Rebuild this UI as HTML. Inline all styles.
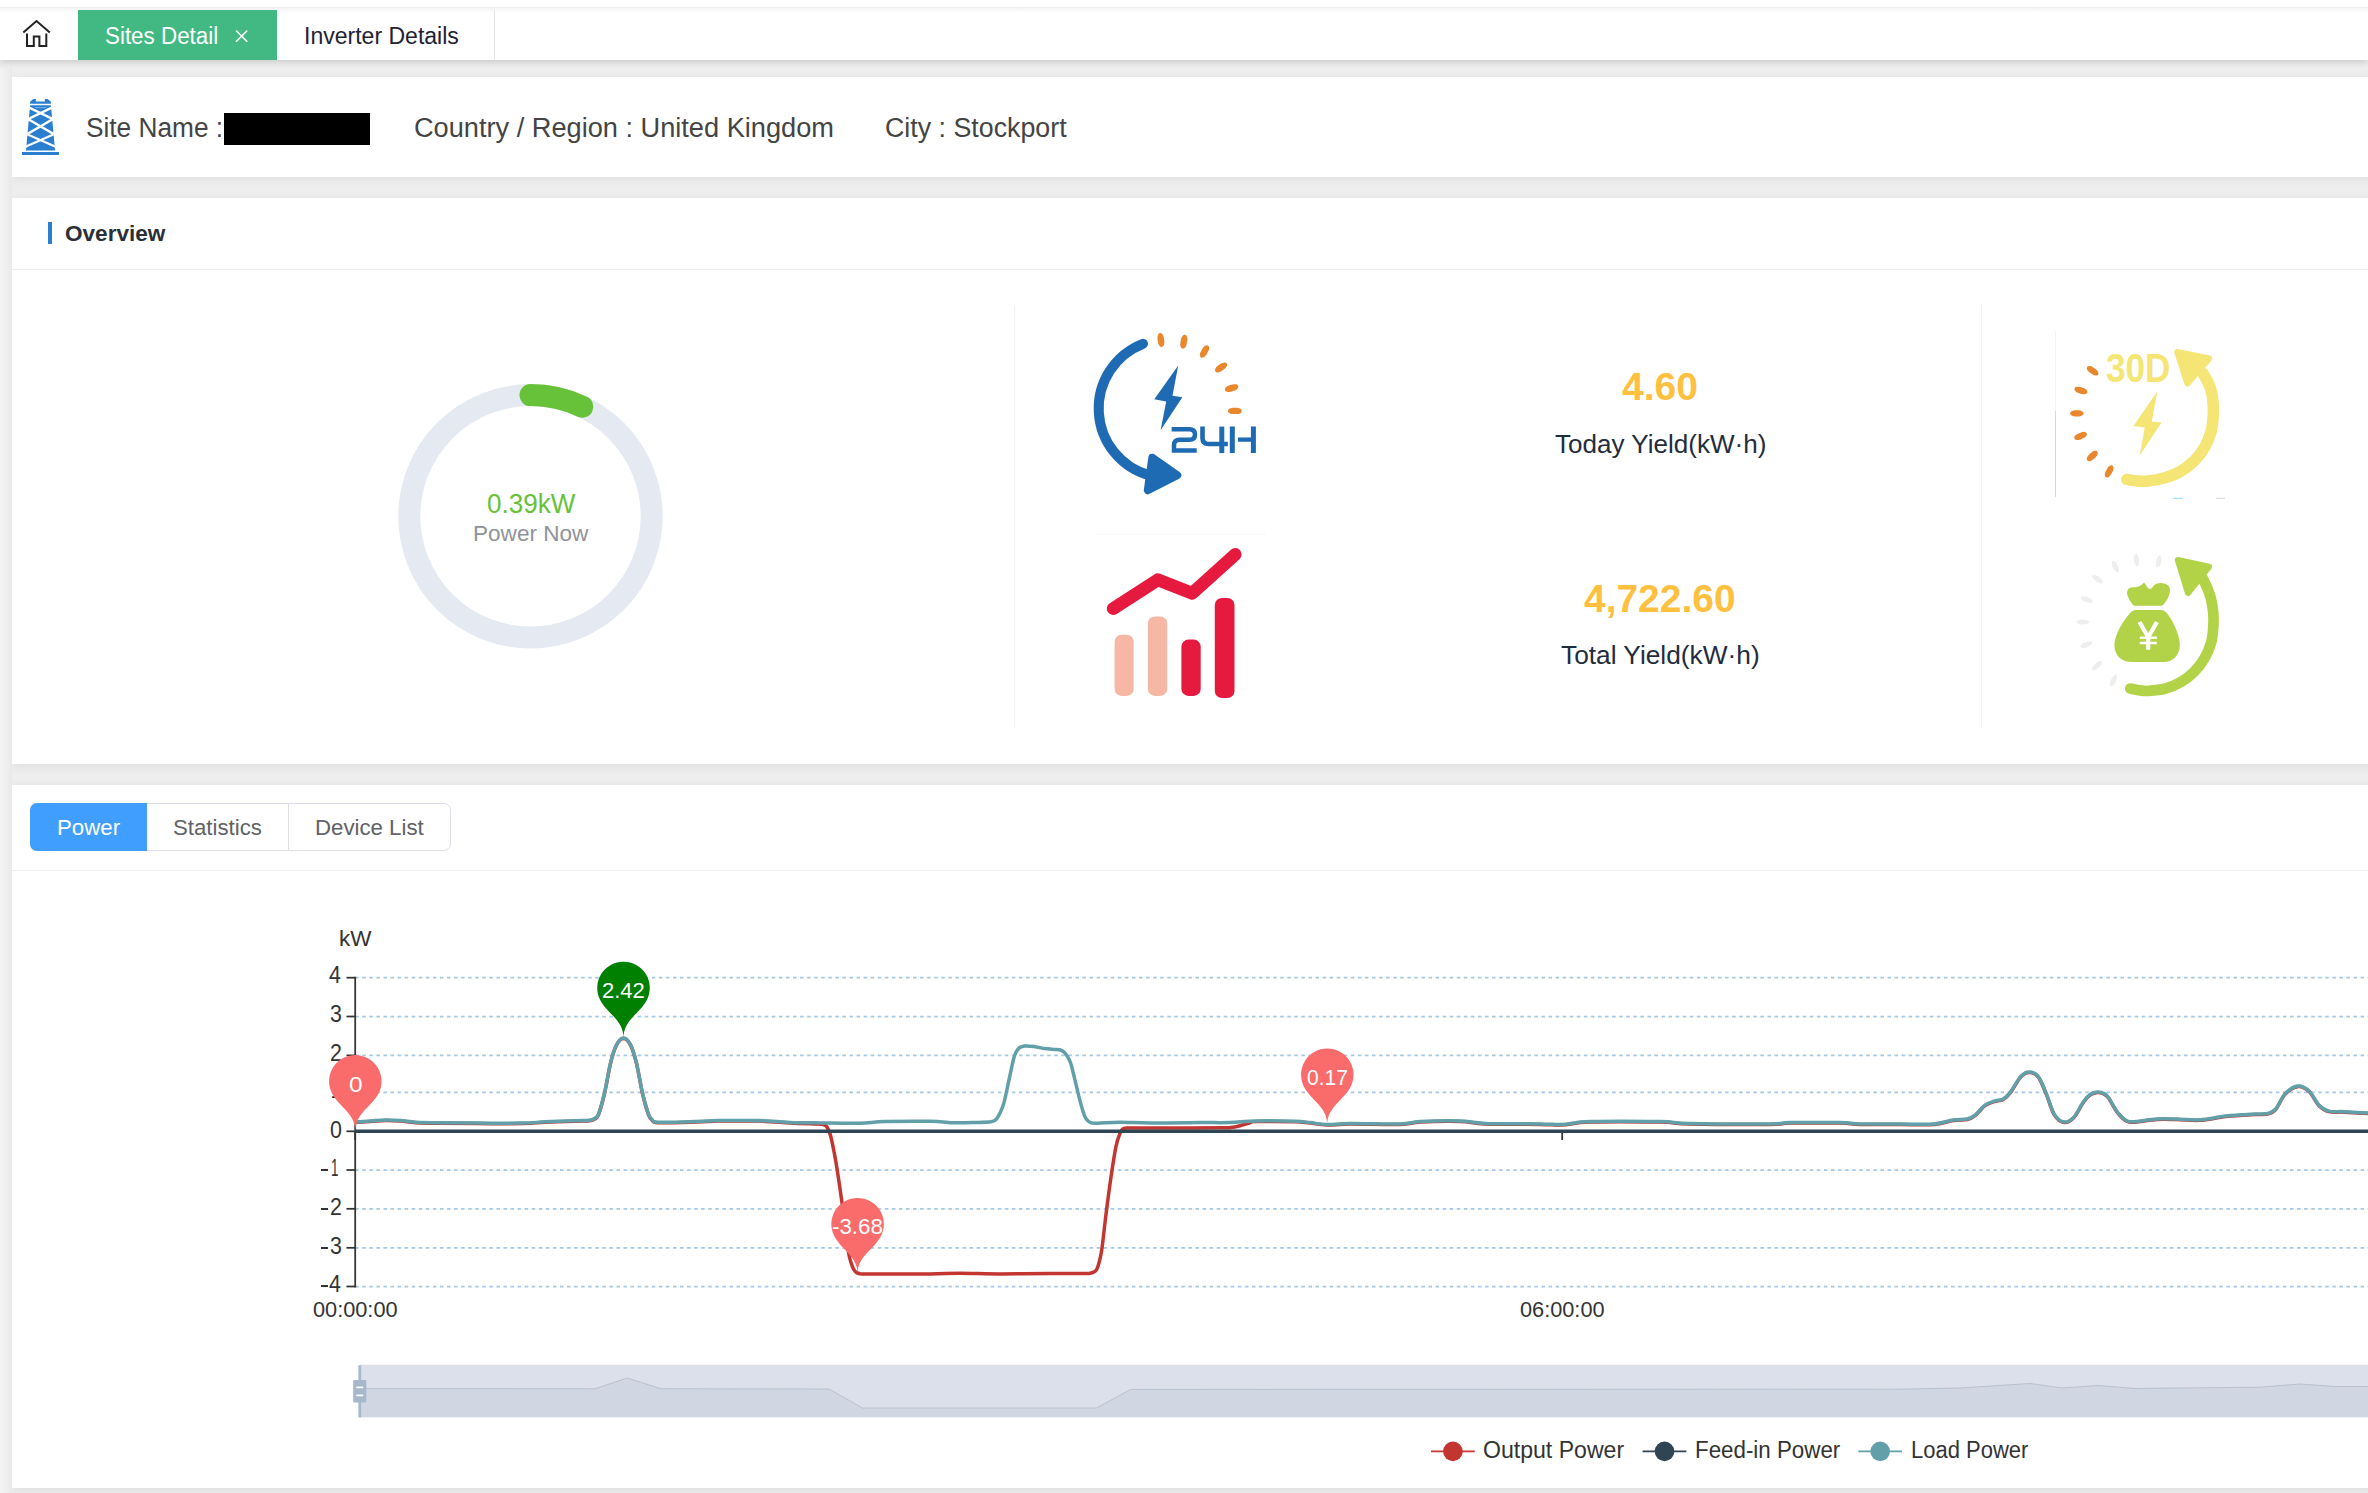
<!DOCTYPE html>
<html><head><meta charset="utf-8"><title>Sites Detail</title>
<style>
html,body{margin:0;padding:0}
body{width:2368px;height:1493px;overflow:hidden;background:#eeeeee;position:relative;
 font-family:"Liberation Sans",sans-serif;}
.t{position:absolute;white-space:nowrap;line-height:1;transform-origin:0 50%;display:block}
.abs{position:absolute}
.card{position:absolute;left:12px;width:2400px;background:#fff;box-shadow:0 2px 9px rgba(0,0,0,.075)}
svg{position:absolute;left:0;top:0;overflow:visible}
</style></head><body>

<div class="abs" style="left:0;top:0;width:2368px;height:60px;background:#fff;box-shadow:0 2px 7px rgba(0,0,0,.16)"></div>
<div class="abs" style="left:0;top:7px;width:2368px;height:6px;background:linear-gradient(#f1f1f1,#fff)"></div>
<div class="abs" style="left:78px;top:10px;width:199px;height:50px;background:#42b983"></div>
<div class="abs" style="left:494px;top:9px;width:1px;height:51px;background:#e6e6e6"></div>
<span class="t" style="left:104.69px;top:24.80px;font-size:23px;color:#fff;transform:scaleX(0.9733);">Sites Detail</span>
<span class="t" style="left:304.03px;top:24.80px;font-size:23px;color:#1e2233;transform:scaleX(1.0013);">Inverter Details</span>
<div class="card" style="top:77px;height:99.5px"></div>
<div class="card" style="top:197.8px;height:566.3px"></div>
<div class="card" style="top:785px;height:703px"></div>
<div class="abs" style="left:0;top:68px;width:12px;height:1425px;background:linear-gradient(90deg,#f4f4f4,#e9e9e9)"></div>
<span class="t" style="left:86.42px;top:114.80px;font-size:27px;color:#444;transform:scaleX(0.9716);">Site Name :</span>
<div class="abs" style="left:224px;top:112.8px;width:146px;height:32px;background:#000"></div>
<span class="t" style="left:413.94px;top:114.80px;font-size:27px;color:#444;transform:scaleX(1.0064);">Country / Region : United Kingdom</span>
<span class="t" style="left:884.96px;top:114.80px;font-size:27px;color:#444;transform:scaleX(0.9921);">City : Stockport</span>
<div class="abs" style="left:48px;top:222px;width:4px;height:22px;background:#2a7fcf"></div>
<span class="t" style="left:64.60px;top:222.55px;font-size:22.5px;color:#2b2f36;font-weight:bold;transform:scaleX(1.0028);">Overview</span>
<div class="abs" style="left:12px;top:269px;width:2356px;height:1px;background:#e6ebf5"></div>
<div class="abs" style="left:1014px;top:305px;width:1px;height:423px;background:#f1f1f1"></div>
<div class="abs" style="left:1981px;top:305px;width:1px;height:423px;background:#f1f1f1"></div>
<span class="t" style="left:486.76px;top:489.15px;font-size:28.3px;color:#67c23a;transform:scaleX(0.9212);">0.39kW</span>
<span class="t" style="left:472.90px;top:522.90px;font-size:21.8px;color:#909399;transform:scaleX(1.0350);">Power Now</span>
<span class="t" style="left:1621.82px;top:368.30px;font-size:38px;color:#ffbf3f;font-weight:bold;transform:scaleX(1.0262);">4.60</span>
<span class="t" style="left:1554.63px;top:431.00px;font-size:26.6px;color:#1f2d3d;transform:scaleX(0.9799);">Today Yield(kW·h)</span>
<span class="t" style="left:1584.22px;top:580.30px;font-size:38px;color:#ffbf3f;font-weight:bold;transform:scaleX(1.0245);">4,722.60</span>
<span class="t" style="left:1561.42px;top:642.00px;font-size:26.6px;color:#1f2d3d;transform:scaleX(0.9883);">Total Yield(kW·h)</span>
<div class="abs" style="left:30px;top:803px;width:420.5px;height:47.6px;border-radius:7px;box-sizing:border-box;border:1.75px solid #dcdfe6;background:#fff"></div>
<div class="abs" style="left:30px;top:803px;width:117px;height:47.6px;border-radius:7px 0 0 7px;background:#409eff"></div>
<div class="abs" style="left:287.5px;top:803px;width:1.75px;height:47.6px;background:#dcdfe6"></div>
<span class="t" style="left:56.97px;top:815.90px;font-size:22.8px;color:#fff;transform:scaleX(0.9758);">Power</span>
<span class="t" style="left:173.30px;top:815.90px;font-size:22.8px;color:#606266;transform:scaleX(0.9745);">Statistics</span>
<span class="t" style="left:314.92px;top:815.90px;font-size:22.8px;color:#606266;transform:scaleX(0.9749);">Device List</span>
<div class="abs" style="left:12px;top:870px;width:2356px;height:1px;background:#eeeff2"></div>
<svg width="2368" height="1493" viewBox="0 0 2368 1493">
<g fill="none" stroke="#222" stroke-width="2" stroke-linejoin="miter"><path d="M23.3 32.6L36.5 21 49.8 32.6"/><path d="M27 33.5V46H33.8V36.6H39.4V46H46.3V33.5"/></g>
<path d="M236 30.5L247.3 41.8M247.3 30.5L236 41.8" stroke="#fff" stroke-width="1.6" fill="none"/>
<g fill="#2a7fd0"><rect x="22" y="152" width="37" height="3"/><path d="M30.1 105.2H50.9L55.1 150.5H26Z"/><path d="M30.1 103.8V101.7L33.2 99H35.9V101.6H44.9V99H47.7L50.9 101.7V103.8Z"/></g>
<g stroke="#fff" stroke-width="2.3" fill="none"><path d="M29.2 107.6L53 119.1 27 134.2 55.6 146.8"/><path d="M51.8 107.6L28 119.1 54 134.2 25.4 146.8"/></g>
<path d="M35 107.6H46" stroke="#8fbdea" stroke-width="0.8"/>
<circle cx="530.5" cy="516.3" r="121.2" fill="none" stroke="#e5e9f2" stroke-width="22"/>
<path d="M530.50 395.10A121.2 121.2 0 0 1 582.30 406.73" fill="none" stroke="#67c23a" stroke-width="22" stroke-linecap="round"/>
<path d="M1143 343.8A69.4 69.4 0 0 0 1150 475.5" fill="none" stroke="#1e6bb4" stroke-width="10" stroke-linecap="round"/>
<path d="M1152.3 457.8L1177.3 475.2 1147.8 490.2Z" fill="#1e6bb4" stroke="#1e6bb4" stroke-width="8" stroke-linejoin="round"/>
<path d="M1178.2 365.6L1154.3 399.3 1166.2 401.4 1160.6 430.3 1182.4 397.2 1172.5 395.8Z" fill="#1e6bb4"/>
<rect x="1157.7" y="333.0" width="6.4" height="14" rx="3.2" ry="5.2" fill="#e8872c" transform="rotate(-8 1160.9 340.0)"/>
<rect x="1180.6" y="334.7" width="6.4" height="14" rx="3.2" ry="5.2" fill="#e8872c" transform="rotate(10 1183.8 341.7)"/>
<rect x="1201.3" y="344.5" width="6.4" height="14" rx="3.2" ry="5.2" fill="#e8872c" transform="rotate(30 1204.5 351.5)"/>
<rect x="1217.9" y="360.4" width="6.4" height="14" rx="3.2" ry="5.2" fill="#e8872c" transform="rotate(55 1221.1 367.4)"/>
<rect x="1228.4" y="381.1" width="6.4" height="14" rx="3.2" ry="5.2" fill="#e8872c" transform="rotate(73 1231.6 388.1)"/>
<rect x="1231.7" y="403.9" width="6.4" height="14" rx="3.2" ry="5.2" fill="#e8872c" transform="rotate(90 1234.9 410.9)"/>
<g fill="none" stroke="#1e6bb4" stroke-width="4.5"><path d="M1171.6 429.2H1189.5Q1195 429.2 1195 434.5Q1195 439.85 1189.5 439.85H1179.5Q1174 439.85 1174 445.3V450.5H1196.7"/><path d="M1202.5 426.6V438Q1202.5 444 1208.5 444H1227.8" stroke-width="4.6"/><path d="M1221.8 426.6V453.1" stroke-width="5"/><path d="M1232.3 426.6V453.1M1253.4 426.6V453.1" stroke-width="5"/><path d="M1238 439.6H1253.4" stroke-width="4.3"/></g>
<path d="M1113.2 608.6L1157.8 579.8 1192.2 593.2 1235.2 554.5" fill="none" stroke="#e6193f" stroke-width="12.8" stroke-linecap="round" stroke-linejoin="round"/>
<rect x="1114.6" y="634.7" width="19.1" height="61.2" rx="7" fill="#f6b8a5"/>
<rect x="1147.9" y="616.4" width="19.3" height="79.5" rx="7" fill="#f6b8a5"/>
<rect x="1181.4" y="639.6" width="19.3" height="56.3" rx="7" fill="#e6193f"/>
<rect x="1214.8" y="598" width="19.7" height="100" rx="7" fill="#e6193f"/>
<path d="M1097 534.2H1266" stroke="#f6f6f6" stroke-width="1"/>
<path d="M2126.8 479.4C2128.5 479.6 2133.4 480.6 2137.0 480.9C2140.6 481.2 2143.5 481.5 2148.2 481.0C2152.9 480.5 2159.6 479.3 2165.0 477.7C2170.5 476.0 2175.9 474.0 2180.8 471.2C2185.6 468.4 2190.3 464.8 2194.2 460.8C2198.2 456.9 2201.8 452.2 2204.6 447.4C2207.4 442.5 2209.6 437.1 2211.1 431.6C2212.5 426.2 2213.0 419.7 2213.3 414.8C2213.6 409.9 2213.3 405.9 2213.0 402.0C2212.7 398.1 2212.2 394.8 2211.3 391.5C2210.5 388.2 2209.3 385.0 2207.9 382.0C2206.5 379.0 2203.8 374.9 2203.0 373.5" fill="none" stroke="#f4e574" stroke-width="11.5" stroke-linecap="round"/>
<path d="M2177.2 352.0L2209.2 358.5 2187.4 383.5Z" fill="#f4e574" stroke="#f4e574" stroke-width="6" stroke-linejoin="round"/>
<path d="M2157.3 391.6L2133.4 426.1 2144.7 427.5 2139.7 455.6 2161.5 422.5 2151.7 421.8Z" fill="#f4e574"/>
<rect x="2089.5" y="364.1" width="6.2" height="13.4" rx="3.1" ry="5" fill="#e8872c" transform="rotate(-55 2092.6 370.8)"/>
<rect x="2077.8" y="383.8" width="6.2" height="13.4" rx="3.1" ry="5" fill="#e8872c" transform="rotate(-72 2080.9 390.5)"/>
<rect x="2073.7" y="406.7" width="6.2" height="13.4" rx="3.1" ry="5" fill="#e8872c" transform="rotate(90 2076.8 413.4)"/>
<rect x="2077.5" y="429.2" width="6.2" height="13.4" rx="3.1" ry="5" fill="#e8872c" transform="rotate(68 2080.6 435.9)"/>
<rect x="2089.2" y="449.3" width="6.2" height="13.4" rx="3.1" ry="5" fill="#e8872c" transform="rotate(48 2092.3 456.0)"/>
<rect x="2106.1" y="464.7" width="6.2" height="13.4" rx="3.1" ry="5" fill="#e8872c" transform="rotate(28 2109.2 471.4)"/>
<text x="2105.9" y="381.9" font-family="Liberation Sans, sans-serif" font-weight="bold" font-size="41" fill="#f4e574" textLength="64.6" lengthAdjust="spacingAndGlyphs">30D</text>
<path d="M2055.5 331V411" stroke="#f3f3f3" stroke-width="1"/><path d="M2055.5 411V497" stroke="#bfe6d0" stroke-width="1"/>
<path d="M2173 498.3H2183" stroke="#8fdcff" stroke-width="1"/><path d="M2216 498.3H2225" stroke="#d8d8d8" stroke-width="1"/>
<path d="M2130.3 688.5C2131.9 688.8 2137.1 690.0 2140.0 690.4C2143.0 690.8 2143.9 691.2 2148.0 690.9C2152.1 690.6 2159.5 690.1 2164.9 688.7C2170.4 687.2 2175.8 685.0 2180.7 682.1C2185.6 679.3 2190.3 675.7 2194.2 671.7C2198.2 667.8 2201.8 663.1 2204.6 658.2C2207.5 653.3 2209.7 647.9 2211.2 642.4C2212.6 637.0 2213.1 630.6 2213.4 625.5C2213.7 620.4 2213.6 616.5 2213.2 612.0C2212.8 607.5 2211.9 602.6 2210.9 598.6C2209.9 594.6 2208.6 591.3 2207.2 587.9C2205.8 584.5 2203.2 579.6 2202.4 578.0" fill="none" stroke="#b2d348" stroke-width="10.7" stroke-linecap="round"/>
<path d="M2177.8 560.0L2209.0 566.8 2188.0 593.0Z" fill="#b2d348" stroke="#b2d348" stroke-width="6" stroke-linejoin="round"/>
<path d="M2133 587.3C2128.500 587.3 2126 590.500 2127.500 595.500C2129.500 600.500 2131.500 603.800 2134 605.800H2162C2165.500 603 2168.500 598 2169.800 592.500C2171 586.500 2167.500 583 2160.500 583C2155.500 583 2153 586 2152 588.300L2148.800 589 2144 582.500C2141.500 585.500 2139 587.300 2133 587.300Z" fill="#b2d348"/>
<path d="M2136.500 610H2160.500C2165 610 2167.500 613.500 2170 617.500C2176 627 2179.800 637.500 2179.800 645C2179.800 656 2172 662 2164 662H2132C2122 662 2114.400 656 2114.400 645C2114.400 637.500 2119.500 626 2128 615.500C2130.500 612.500 2132.500 610 2136.500 610Z" fill="#b2d348"/>
<g stroke="#fff" fill="none"><path d="M2139.500 622L2148.200 637.300 2156.900 622" stroke-width="4.2"/><path d="M2148.200 636V649.800" stroke-width="4.2"/><path d="M2139.800 637.800H2156.800M2139.800 643.000H2156.800" stroke-width="2.4"/></g>
<ellipse cx="2136.5" cy="560.1" rx="2.6" ry="6.3" fill="#eeeeee" transform="rotate(-6 2136.5 560.1)"/>
<ellipse cx="2158.7" cy="561.5" rx="2.6" ry="6.3" fill="#eeeeee" transform="rotate(12 2158.7 561.5)"/>
<ellipse cx="2115.4" cy="566.8" rx="2.6" ry="6.3" fill="#eeeeee" transform="rotate(-27 2115.4 566.8)"/>
<ellipse cx="2097.5" cy="579.1" rx="2.6" ry="6.3" fill="#eeeeee" transform="rotate(-52 2097.5 579.1)"/>
<ellipse cx="2086.7" cy="599.5" rx="2.6" ry="6.3" fill="#eeeeee" transform="rotate(-70 2086.7 599.5)"/>
<ellipse cx="2082.8" cy="622.0" rx="2.6" ry="6.3" fill="#eeeeee" transform="rotate(90 2082.8 622.0)"/>
<ellipse cx="2086.3" cy="644.8" rx="2.6" ry="6.3" fill="#eeeeee" transform="rotate(68 2086.3 644.8)"/>
<ellipse cx="2097.1" cy="665.6" rx="2.6" ry="6.3" fill="#eeeeee" transform="rotate(48 2097.1 665.6)"/>
<ellipse cx="2113.4" cy="680.7" rx="2.6" ry="6.3" fill="#eeeeee" transform="rotate(27 2113.4 680.7)"/>
</svg>
<span class="t" style="left:329.37px;top:1272.80px;font-size:23px;color:#333;transform:scaleX(0.9300);">4</span>
<div class="abs" style="left:320.9px;top:1284.9px;width:6.7px;height:1.9px;background:#333"></div>
<span class="t" style="left:329.69px;top:1234.80px;font-size:23px;color:#333;transform:scaleX(0.9300);">3</span>
<div class="abs" style="left:320.9px;top:1246.9px;width:6.7px;height:1.9px;background:#333"></div>
<span class="t" style="left:329.80px;top:1195.80px;font-size:23px;color:#333;transform:scaleX(0.9300);">2</span>
<div class="abs" style="left:320.9px;top:1207.9px;width:6.7px;height:1.9px;background:#333"></div>
<span class="t" style="left:330.60px;top:1156.80px;font-size:23px;color:#333;transform:scaleX(0.5797);">1</span>
<div class="abs" style="left:321.4px;top:1168.9px;width:6.7px;height:1.9px;background:#333"></div>
<span class="t" style="left:329.58px;top:1118.80px;font-size:23px;color:#333;transform:scaleX(0.9300);">0</span>
<span class="t" style="left:330.60px;top:1078.80px;font-size:23px;color:#333;transform:scaleX(0.5797);">1</span>
<span class="t" style="left:329.80px;top:1041.80px;font-size:23px;color:#333;transform:scaleX(0.9300);">2</span>
<span class="t" style="left:329.69px;top:1002.80px;font-size:23px;color:#333;transform:scaleX(0.9300);">3</span>
<span class="t" style="left:329.37px;top:963.80px;font-size:23px;color:#333;transform:scaleX(0.9300);">4</span>
<span class="t" style="left:339.14px;top:926.95px;font-size:22.7px;color:#333;transform:scaleX(0.9900);">kW</span>
<span class="t" style="left:313.03px;top:1298.50px;font-size:22.6px;color:#333;transform:scaleX(0.9616);">00:00:00</span>
<span class="t" style="left:1519.63px;top:1298.50px;font-size:22.6px;color:#333;transform:scaleX(0.9616);">06:00:00</span>
<svg width="2368" height="1493" viewBox="0 0 2368 1493">
<path d="M355.2 977.70H2368" stroke="#a3c8e8" stroke-width="1.75" stroke-dasharray="3.53 3.5312" fill="none"/>
<path d="M355.2 1016.50H2368" stroke="#a3c8e8" stroke-width="1.75" stroke-dasharray="3.53 3.5312" fill="none"/>
<path d="M355.2 1055.40H2368" stroke="#a3c8e8" stroke-width="1.75" stroke-dasharray="3.53 3.5312" fill="none"/>
<path d="M355.2 1092.40H2368" stroke="#a3c8e8" stroke-width="1.75" stroke-dasharray="3.53 3.5312" fill="none"/>
<path d="M355.2 1170.00H2368" stroke="#a3c8e8" stroke-width="1.75" stroke-dasharray="3.53 3.5312" fill="none"/>
<path d="M355.2 1208.80H2368" stroke="#a3c8e8" stroke-width="1.75" stroke-dasharray="3.53 3.5312" fill="none"/>
<path d="M355.2 1247.80H2368" stroke="#a3c8e8" stroke-width="1.75" stroke-dasharray="3.53 3.5312" fill="none"/>
<path d="M355.2 1286.50H2368" stroke="#a3c8e8" stroke-width="1.75" stroke-dasharray="3.53 3.5312" fill="none"/>
<path d="M355.2 976.80V1287.40" stroke="#333" stroke-width="1.75" fill="none"/>
<path d="M346.45 1286.50H355.2" stroke="#333" stroke-width="1.75" fill="none"/>
<path d="M346.45 1247.80H355.2" stroke="#333" stroke-width="1.75" fill="none"/>
<path d="M346.45 1208.80H355.2" stroke="#333" stroke-width="1.75" fill="none"/>
<path d="M346.45 1170.00H355.2" stroke="#333" stroke-width="1.75" fill="none"/>
<path d="M346.45 1131.30H355.2" stroke="#333" stroke-width="1.75" fill="none"/>
<path d="M346.45 1092.40H355.2" stroke="#333" stroke-width="1.75" fill="none"/>
<path d="M346.45 1055.40H355.2" stroke="#333" stroke-width="1.75" fill="none"/>
<path d="M346.45 1016.50H355.2" stroke="#333" stroke-width="1.75" fill="none"/>
<path d="M346.45 977.70H355.2" stroke="#333" stroke-width="1.75" fill="none"/>
<path d="M355.2 1131.3H2368" stroke="#333" stroke-width="1.75" fill="none"/>
<path d="M355.2 1131.3V1140.05M1562.2 1131.3V1140.05" stroke="#333" stroke-width="1.75" fill="none"/>
<path d="M355.2 1122.4C357.7 1122.2 364.9 1121.8 370.0 1121.5C375.1 1121.2 380.5 1120.6 385.6 1120.5C390.7 1120.4 395.7 1120.7 400.8 1121.1C405.9 1121.5 409.5 1122.3 416.0 1122.7C422.5 1123.1 429.9 1123.2 440.0 1123.3C450.1 1123.4 463.1 1123.5 476.8 1123.6C490.5 1123.6 511.0 1123.8 522.4 1123.6C533.8 1123.4 536.3 1122.7 545.2 1122.3C554.1 1121.9 568.2 1121.5 575.6 1121.3C583.0 1121.0 586.4 1121.2 589.5 1120.8C592.6 1120.4 593.0 1120.0 594.5 1119.0C596.0 1118.0 596.7 1119.0 598.4 1114.8C600.1 1110.5 602.5 1102.1 604.5 1093.5C606.5 1084.9 608.6 1071.2 610.6 1063.1C612.6 1055.0 614.6 1048.9 616.7 1044.8C618.9 1040.7 621.2 1038.4 623.5 1038.4C625.8 1038.4 628.2 1040.7 630.4 1044.8C632.5 1048.9 634.4 1055.0 636.4 1063.1C638.4 1071.2 640.5 1084.9 642.5 1093.5C644.5 1102.1 646.9 1110.3 648.6 1114.8C650.3 1119.3 651.0 1119.2 652.5 1120.5C654.0 1121.8 651.2 1122.4 657.5 1122.7C663.8 1123.0 679.6 1122.6 690.0 1122.3C700.4 1122.0 708.3 1121.3 720.0 1121.1C731.7 1120.9 748.3 1120.8 760.0 1121.1C771.7 1121.4 780.8 1122.4 790.0 1122.9C799.2 1123.4 809.7 1123.7 815.0 1123.9C820.3 1124.1 820.2 1124.0 822.0 1124.3C823.8 1124.6 824.9 1125.0 826.0 1125.9C827.1 1126.9 827.7 1128.2 828.5 1130.0C829.3 1131.8 830.0 1133.4 830.9 1137.0C831.8 1140.6 832.9 1145.9 834.0 1151.5C835.1 1157.1 835.9 1161.5 837.3 1170.5C838.7 1179.5 841.0 1195.5 842.4 1205.5C843.8 1215.5 844.5 1222.5 845.5 1230.5C846.5 1238.5 847.8 1248.0 848.7 1253.3C849.6 1258.6 850.2 1259.9 851.0 1262.5C851.8 1265.1 852.6 1267.3 853.5 1269.0C854.4 1270.7 855.3 1271.7 856.4 1272.5C857.5 1273.3 858.4 1273.5 860.0 1273.8C861.6 1274.0 862.7 1274.0 866.0 1274.0C869.3 1274.0 869.3 1274.0 880.0 1274.0C890.7 1274.0 916.7 1274.0 930.0 1273.9C943.3 1273.8 948.3 1273.3 960.0 1273.3C971.7 1273.3 985.0 1273.9 1000.0 1273.9C1015.0 1273.9 1035.8 1273.6 1050.0 1273.5C1064.2 1273.4 1078.3 1273.5 1085.0 1273.5C1091.7 1273.5 1088.5 1273.5 1090.0 1273.3C1091.5 1273.1 1092.6 1272.8 1093.8 1272.1C1095.0 1271.4 1096.0 1270.9 1096.9 1269.0C1097.9 1267.1 1098.7 1264.4 1099.5 1260.9C1100.3 1257.4 1100.9 1255.8 1102.0 1248.2C1103.1 1240.6 1104.4 1227.0 1105.9 1215.1C1107.4 1203.2 1109.3 1188.4 1111.0 1176.9C1112.7 1165.4 1114.5 1153.5 1116.0 1146.3C1117.5 1139.1 1119.0 1136.3 1119.9 1133.6C1120.8 1130.9 1120.9 1131.1 1121.5 1130.3C1122.1 1129.5 1122.7 1129.0 1123.5 1128.6C1124.3 1128.2 1125.1 1128.1 1126.5 1128.0C1127.9 1127.9 1123.1 1127.9 1132.0 1127.9C1140.9 1127.9 1165.0 1127.9 1180.0 1127.9C1195.0 1127.9 1213.6 1127.9 1222.0 1127.8C1230.4 1127.7 1227.6 1127.8 1230.6 1127.5C1233.6 1127.2 1236.8 1126.5 1240.0 1125.7C1243.2 1124.9 1247.3 1123.4 1250.0 1122.7C1252.7 1122.0 1248.5 1121.8 1256.0 1121.6C1263.5 1121.4 1286.0 1121.5 1295.0 1121.8C1304.0 1122.0 1304.7 1122.6 1310.0 1123.1C1315.3 1123.6 1320.3 1124.8 1327.0 1125.0C1333.7 1125.2 1337.8 1124.1 1350.0 1124.0C1362.2 1123.9 1388.3 1124.7 1400.0 1124.4C1411.7 1124.1 1410.0 1122.6 1420.0 1122.1C1430.0 1121.6 1449.2 1121.2 1460.0 1121.5C1470.8 1121.8 1471.7 1123.4 1485.0 1123.9C1498.3 1124.4 1527.2 1124.2 1540.0 1124.4C1552.8 1124.6 1553.7 1125.4 1562.0 1125.0C1570.3 1124.6 1573.7 1122.6 1590.0 1122.1C1606.3 1121.6 1643.3 1121.8 1660.0 1122.1C1676.7 1122.4 1671.7 1123.6 1690.0 1124.0C1708.3 1124.4 1753.3 1124.6 1770.0 1124.4C1786.7 1124.2 1778.3 1123.3 1790.0 1123.1C1801.7 1122.9 1828.3 1122.9 1840.0 1123.1C1851.7 1123.3 1850.0 1124.2 1860.0 1124.4C1870.0 1124.6 1887.7 1124.5 1900.0 1124.5C1912.3 1124.5 1924.7 1125.2 1933.6 1124.5C1942.5 1123.8 1947.8 1121.3 1953.4 1120.5C1959.0 1119.7 1963.6 1120.3 1967.2 1119.5C1970.8 1118.7 1972.1 1117.9 1975.1 1115.6C1978.1 1113.3 1981.7 1108.1 1985.0 1105.7C1988.3 1103.3 1991.9 1102.4 1994.9 1101.4C1997.9 1100.4 2000.2 1101.3 2002.8 1099.8C2005.4 1098.3 2007.7 1096.1 2010.7 1092.3C2013.7 1088.5 2017.5 1080.4 2020.6 1077.1C2023.7 1073.8 2026.5 1072.5 2029.4 1072.5C2032.4 1072.5 2035.5 1073.5 2038.3 1077.1C2041.1 1080.7 2043.6 1087.7 2046.2 1093.9C2048.8 1100.2 2051.2 1109.8 2054.2 1114.6C2057.2 1119.4 2060.7 1122.0 2064.0 1122.5C2067.3 1123.0 2070.6 1121.0 2073.9 1117.6C2077.2 1114.1 2081.0 1105.6 2083.8 1101.8C2086.6 1098.0 2088.2 1096.3 2090.5 1094.8C2092.8 1093.2 2095.4 1092.7 2097.6 1092.5C2099.8 1092.3 2101.7 1092.9 2103.5 1093.8C2105.3 1094.7 2106.2 1094.9 2108.5 1098.0C2110.8 1101.1 2114.3 1108.7 2117.4 1112.6C2120.5 1116.5 2124.0 1120.0 2127.3 1121.5C2130.6 1123.0 2132.3 1122.2 2137.2 1121.9C2142.1 1121.6 2150.3 1119.9 2156.9 1119.5C2163.5 1119.1 2169.4 1119.4 2176.7 1119.5C2183.9 1119.6 2192.2 1120.8 2200.4 1120.3C2208.6 1119.8 2216.9 1117.5 2226.1 1116.6C2235.3 1115.6 2248.8 1115.0 2255.7 1114.6C2262.6 1114.2 2264.3 1114.8 2267.6 1114.0C2270.9 1113.2 2272.5 1113.0 2275.5 1109.7C2278.5 1106.4 2281.6 1097.8 2285.4 1093.9C2289.2 1090.0 2294.2 1086.9 2298.2 1086.5C2302.1 1086.1 2305.6 1088.3 2309.1 1091.5C2312.6 1094.7 2315.7 1102.4 2319.0 1105.7C2322.3 1109.0 2324.6 1110.5 2328.9 1111.6C2333.2 1112.7 2337.5 1111.8 2344.7 1112.2C2351.9 1112.6 2367.4 1113.5 2372.0 1113.7" fill="none" stroke="#c23531" stroke-width="3.5" stroke-linejoin="round"/>
<path d="M355.2 1131.3H2368" fill="none" stroke="#2f4554" stroke-width="3.5"/>
<path d="M355.2 1121.9C357.7 1121.8 364.9 1121.3 370.0 1121.0C375.1 1120.7 380.5 1120.1 385.6 1120.0C390.7 1119.9 395.7 1120.2 400.8 1120.6C405.9 1121.0 409.5 1121.8 416.0 1122.2C422.5 1122.6 429.9 1122.7 440.0 1122.8C450.1 1122.9 463.1 1123.0 476.8 1123.1C490.5 1123.1 511.0 1123.3 522.4 1123.1C533.8 1122.9 536.3 1122.2 545.2 1121.8C554.1 1121.4 568.2 1121.0 575.6 1120.8C583.0 1120.5 586.4 1120.7 589.5 1120.3C592.6 1119.9 593.0 1119.5 594.5 1118.5C596.0 1117.5 596.7 1118.5 598.4 1114.3C600.1 1110.0 602.5 1101.6 604.5 1093.0C606.5 1084.4 608.6 1070.7 610.6 1062.6C612.6 1054.5 614.6 1048.4 616.7 1044.3C618.9 1040.2 621.2 1037.9 623.5 1037.9C625.8 1037.9 628.2 1040.2 630.4 1044.3C632.5 1048.4 634.4 1054.5 636.4 1062.6C638.4 1070.7 640.5 1084.4 642.5 1093.0C644.5 1101.6 646.9 1109.8 648.6 1114.3C650.3 1118.8 651.0 1118.7 652.5 1120.0C654.0 1121.3 651.2 1121.9 657.5 1122.2C663.8 1122.5 679.6 1122.1 690.0 1121.8C700.4 1121.5 708.3 1120.8 720.0 1120.6C731.7 1120.4 748.3 1120.3 760.0 1120.6C771.7 1120.9 779.2 1122.0 790.0 1122.4C800.8 1122.8 813.3 1122.8 825.0 1123.0C836.7 1123.2 850.0 1123.5 860.0 1123.3C870.0 1123.1 873.3 1121.9 885.0 1121.6C896.7 1121.3 918.3 1121.1 930.0 1121.3C941.7 1121.5 947.5 1122.6 955.0 1122.8C962.5 1123.0 969.0 1122.7 975.0 1122.5C981.0 1122.3 987.5 1122.2 991.0 1121.7C994.5 1121.2 994.5 1121.0 996.0 1119.5C997.5 1118.0 998.7 1115.8 1000.0 1113.0C1001.3 1110.2 1002.5 1108.1 1004.0 1102.6C1005.5 1097.1 1007.3 1087.7 1009.0 1080.0C1010.7 1072.3 1012.6 1062.0 1014.2 1056.7C1015.8 1051.5 1016.8 1050.3 1018.5 1048.5C1020.2 1046.7 1021.8 1046.3 1024.4 1046.0C1027.0 1045.7 1030.6 1046.0 1034.0 1046.4C1037.4 1046.8 1041.5 1048.1 1044.8 1048.6C1048.1 1049.1 1051.4 1049.2 1054.0 1049.4C1056.6 1049.6 1058.7 1049.4 1060.5 1050.0C1062.3 1050.6 1063.4 1051.0 1065.0 1053.0C1066.6 1055.0 1068.7 1058.0 1070.2 1061.8C1071.7 1065.6 1072.7 1070.9 1074.0 1076.0C1075.3 1081.1 1076.6 1087.1 1077.9 1092.4C1079.2 1097.7 1080.7 1103.8 1082.0 1108.0C1083.3 1112.2 1084.1 1115.4 1085.5 1117.8C1086.9 1120.2 1088.5 1121.7 1090.6 1122.6C1092.7 1123.5 1093.1 1123.3 1098.0 1123.2C1102.9 1123.1 1111.3 1122.2 1120.0 1122.2C1128.7 1122.2 1136.7 1122.8 1150.0 1122.9C1163.3 1123.0 1186.7 1122.7 1200.0 1122.6C1213.3 1122.5 1220.7 1122.8 1230.0 1122.5C1239.3 1122.2 1245.2 1121.1 1256.0 1120.9C1266.8 1120.7 1286.0 1121.0 1295.0 1121.3C1304.0 1121.6 1304.7 1122.1 1310.0 1122.6C1315.3 1123.1 1320.3 1124.3 1327.0 1124.5C1333.7 1124.7 1337.8 1123.6 1350.0 1123.5C1362.2 1123.4 1388.3 1124.2 1400.0 1123.9C1411.7 1123.6 1410.0 1122.1 1420.0 1121.6C1430.0 1121.1 1449.2 1120.7 1460.0 1121.0C1470.8 1121.3 1471.7 1122.9 1485.0 1123.4C1498.3 1123.9 1527.2 1123.7 1540.0 1123.9C1552.8 1124.1 1553.7 1124.9 1562.0 1124.5C1570.3 1124.1 1573.7 1122.1 1590.0 1121.6C1606.3 1121.1 1643.3 1121.3 1660.0 1121.6C1676.7 1121.9 1671.7 1123.1 1690.0 1123.5C1708.3 1123.9 1753.3 1124.1 1770.0 1123.9C1786.7 1123.8 1778.3 1122.8 1790.0 1122.6C1801.7 1122.4 1828.3 1122.4 1840.0 1122.6C1851.7 1122.8 1850.0 1123.7 1860.0 1123.9C1870.0 1124.1 1887.7 1124.0 1900.0 1124.0C1912.3 1124.0 1924.7 1124.7 1933.6 1124.0C1942.5 1123.3 1947.8 1120.8 1953.4 1120.0C1959.0 1119.2 1963.6 1119.8 1967.2 1119.0C1970.8 1118.2 1972.1 1117.4 1975.1 1115.1C1978.1 1112.8 1981.7 1107.6 1985.0 1105.2C1988.3 1102.8 1991.9 1101.9 1994.9 1100.9C1997.9 1099.9 2000.2 1100.8 2002.8 1099.3C2005.4 1097.8 2007.7 1095.6 2010.7 1091.8C2013.7 1088.0 2017.5 1079.9 2020.6 1076.6C2023.7 1073.3 2026.5 1072.0 2029.4 1072.0C2032.4 1072.0 2035.5 1073.0 2038.3 1076.6C2041.1 1080.2 2043.6 1087.2 2046.2 1093.4C2048.8 1099.7 2051.2 1109.3 2054.2 1114.1C2057.2 1118.9 2060.7 1121.5 2064.0 1122.0C2067.3 1122.5 2070.6 1120.5 2073.9 1117.1C2077.2 1113.6 2081.0 1105.1 2083.8 1101.3C2086.6 1097.5 2088.2 1095.8 2090.5 1094.3C2092.8 1092.8 2095.4 1092.2 2097.6 1092.0C2099.8 1091.8 2101.7 1092.4 2103.5 1093.3C2105.3 1094.2 2106.2 1094.4 2108.5 1097.5C2110.8 1100.6 2114.3 1108.2 2117.4 1112.1C2120.5 1116.0 2124.0 1119.5 2127.3 1121.0C2130.6 1122.5 2132.3 1121.7 2137.2 1121.4C2142.1 1121.1 2150.3 1119.4 2156.9 1119.0C2163.5 1118.6 2169.4 1118.9 2176.7 1119.0C2183.9 1119.1 2192.2 1120.3 2200.4 1119.8C2208.6 1119.3 2216.9 1117.0 2226.1 1116.1C2235.3 1115.1 2248.8 1114.5 2255.7 1114.1C2262.6 1113.7 2264.3 1114.3 2267.6 1113.5C2270.9 1112.7 2272.5 1112.5 2275.5 1109.2C2278.5 1105.9 2281.6 1097.3 2285.4 1093.4C2289.2 1089.5 2294.2 1086.4 2298.2 1086.0C2302.1 1085.6 2305.6 1087.8 2309.1 1091.0C2312.6 1094.2 2315.7 1101.9 2319.0 1105.2C2322.3 1108.5 2324.6 1110.0 2328.9 1111.1C2333.2 1112.2 2337.5 1111.3 2344.7 1111.7C2351.9 1112.1 2367.4 1113.0 2372.0 1113.2" fill="none" stroke="#61a0a8" stroke-width="3.5" stroke-linejoin="round"/>
<path d="M331.58 1092.55A26.25 26.25 0 1 1 379.02 1092.55C372.27 1106.78 355.30 1112.92 355.30 1131.30C355.30 1112.92 338.33 1106.78 331.58 1092.55Z" fill="#fa6b6b"/>
<path d="M599.78 999.15A26.25 26.25 0 1 1 647.22 999.15C640.47 1013.38 623.50 1019.53 623.50 1037.90C623.50 1019.53 606.53 1013.38 599.78 999.15Z" fill="#008000"/>
<path d="M833.88 1235.37A26.25 26.25 0 1 1 881.32 1235.37C874.57 1249.60 857.60 1255.74 857.60 1274.12C857.60 1255.74 840.63 1249.60 833.88 1235.37Z" fill="#fa6b6b"/>
<path d="M1303.58 1085.94A26.25 26.25 0 1 1 1351.02 1085.94C1344.27 1100.17 1327.30 1106.31 1327.30 1124.69C1327.30 1106.31 1310.33 1100.17 1303.58 1085.94Z" fill="#fa6b6b"/>
</svg>
<span class="t" style="left:348.52px;top:1074.55px;font-size:21.5px;color:#fff;transform:scaleX(1.1359);">0</span>
<span class="t" style="left:602.10px;top:980.55px;font-size:21.5px;color:#fff;transform:scaleX(1.0235);">2.42</span>
<span class="t" style="left:832.10px;top:1216.55px;font-size:21.5px;color:#fff;transform:scaleX(1.0383);">-3.68</span>
<span class="t" style="left:1306.96px;top:1067.55px;font-size:21.5px;color:#fff;transform:scaleX(0.9779);">0.17</span>
<svg width="2368" height="1493" viewBox="0 0 2368 1493">
<rect x="359.5" y="1365.3" width="2368" height="52" fill="#dbe0ea"/>
<path d="M359.5 1365.3H2368" stroke="#dcdcdc" stroke-width="1"/>
<path d="M359.5 1388.6L595.0 1388.8L627.3 1378.0L661.0 1388.8L829.1 1389.0L862.5 1408.0L1096.5 1408.0L1130.7 1389.4L1900.0 1389.2L1960.0 1388.0L2030.0 1383.5L2062.0 1388.0L2098.0 1385.5L2135.0 1388.5L2260.0 1387.2L2300.0 1384.0L2335.0 1386.5L2368.0 1386.5L2368 1417.3L359.5 1417.3Z" fill="#d1d7e2"/>
<path d="M359.5 1388.6L595.0 1388.8L627.3 1378.0L661.0 1388.8L829.1 1389.0L862.5 1408.0L1096.5 1408.0L1130.7 1389.4L1900.0 1389.2L1960.0 1388.0L2030.0 1383.5L2062.0 1388.0L2098.0 1385.5L2135.0 1388.5L2260.0 1387.2L2300.0 1384.0L2335.0 1386.5L2368.0 1386.5" fill="none" stroke="#b9c1cf" stroke-width="1"/>
<rect x="358.4" y="1365.3" width="2.8" height="52" fill="#a7b7cc"/>
<rect x="353.2" y="1380.1" width="13.1" height="22.4" rx="1.2" fill="#a7b7cc"/>
<path d="M356.3 1387.4H363.2M356.3 1395.3H363.2" stroke="#fff" stroke-width="1.7"/>
<path d="M1431.0 1451.4H1474.75" stroke="#c23531" stroke-width="1.75"/>
<circle cx="1452.9" cy="1451.4" r="9.8" fill="#c23531"/>
<path d="M1642.6 1451.4H1686.35" stroke="#2f4554" stroke-width="1.75"/>
<circle cx="1664.5" cy="1451.4" r="9.8" fill="#2f4554"/>
<path d="M1858.3 1451.4H1902.05" stroke="#61a0a8" stroke-width="1.75"/>
<circle cx="1880.2" cy="1451.4" r="9.8" fill="#61a0a8"/>
</svg>
<span class="t" style="left:1483.16px;top:1438.80px;font-size:23px;color:#333;transform:scaleX(1.0032);">Output Power</span>
<span class="t" style="left:1694.71px;top:1438.80px;font-size:23px;color:#333;transform:scaleX(0.9714);">Feed-in Power</span>
<span class="t" style="left:1910.54px;top:1438.80px;font-size:23px;color:#333;transform:scaleX(0.9559);">Load Power</span>
</body></html>
